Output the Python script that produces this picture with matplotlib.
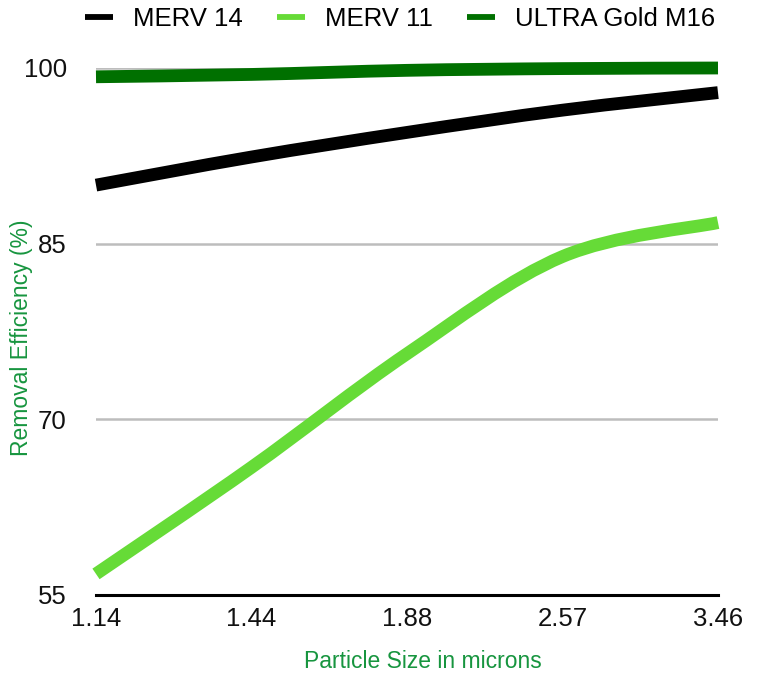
import matplotlib
matplotlib.use("Agg")
import matplotlib.pyplot as plt
from matplotlib.path import Path
from matplotlib.patches import PathPatch
from matplotlib.lines import Line2D
import numpy as np

plt.rcParams['font.family'] = ['Liberation Sans', 'DejaVu Sans']

# ---- data ----
sizes = ["1.14", "1.44", "1.88", "2.57", "3.46"]
merv14 = [90.0, 92.4, 94.5, 96.4, 97.9]
merv11 = [56.8, 65.9, 75.6, 83.9, 86.8]
ultra_m16 = [99.25, 99.45, 99.8, 99.95, 100.0]
series_names = ["MERV 14", "MERV 11", "ULTRA Gold M16"]
yticks = [55, 70, 85, 100]

colors = ["#000000", "#66db37", "#007000"]
label_green = "#17953f"

fig = plt.figure(figsize=7.62 * np.array([1, 677 / 762]), dpi=100)
ax = fig.add_axes([96 / 762, 1 - 595 / 677, (718 - 96) / 762, (595 - 68) / 677])

x = np.arange(len(sizes))
ax.set_xlim(x[0], x[-1])
ax.set_ylim(55, 100)


def smooth_path(xs, ys):
    xs = np.asarray(xs, float)
    ys = np.asarray(ys, float)
    n = len(xs)
    verts = [(xs[0], ys[0])]
    codes = [Path.MOVETO]
    for i in range(n - 1):
        p0 = np.array([xs[max(i - 1, 0)], ys[max(i - 1, 0)]])
        p1 = np.array([xs[i], ys[i]])
        p2 = np.array([xs[i + 1], ys[i + 1]])
        p3 = np.array([xs[min(i + 2, n - 1)], ys[min(i + 2, n - 1)]])
        c1 = p1 + (p2 - p0) / 6.0
        c2 = p2 - (p3 - p1) / 6.0
        verts += [tuple(c1), tuple(c2), tuple(p2)]
        codes += [Path.CURVE4, Path.CURVE4, Path.CURVE4]
    return Path(verts, codes)


for vals, col in zip([merv14, merv11, ultra_m16], colors):
    patch = PathPatch(smooth_path(x, vals), facecolor='none', edgecolor=col,
                      linewidth=9.2, capstyle='butt', joinstyle='round',
                      transform=ax.transData, clip_on=False, zorder=3)
    ax.add_patch(patch)

# gridlines
for yv in yticks[1:]:
    ax.axhline(yv, color="#bdbdbd", linewidth=1.8, zorder=1)
ax.axhline(55, color="#000000", linewidth=2.2, zorder=2, clip_on=False)

for s in ax.spines.values():
    s.set_visible(False)

ax.set_xticks(x)
ax.set_xticklabels(sizes)
ax.set_yticks(yticks)
ax.set_yticklabels([str(v) for v in yticks])
ax.tick_params(axis='both', length=0, labelsize=18.5, colors='#111111')
ax.tick_params(axis='y', pad=21)
ax.tick_params(axis='x', pad=9)

fig.text(423 / 762, 1 - 662 / 677, "Particle Size in microns", color=label_green,
         fontsize=16.5, ha='center', va='center')
fig.text(22 / 762, 1 - 338 / 677, "Removal Efficiency (%)", color=label_green,
         fontsize=16.5, ha='center', va='center', rotation=90)

handles = [Line2D([0], [0], color=c, linewidth=4.2, solid_capstyle='butt') for c in colors]
fig.legend(handles, series_names, loc='center', bbox_to_anchor=(400 / 762, 1 - 19 / 677),
           ncol=3, frameon=False, fontsize=18.5, handlelength=1.1, handletextpad=0.75,
           columnspacing=1.35, borderpad=0)

fig.savefig("out.png", dpi=100, facecolor='white')
